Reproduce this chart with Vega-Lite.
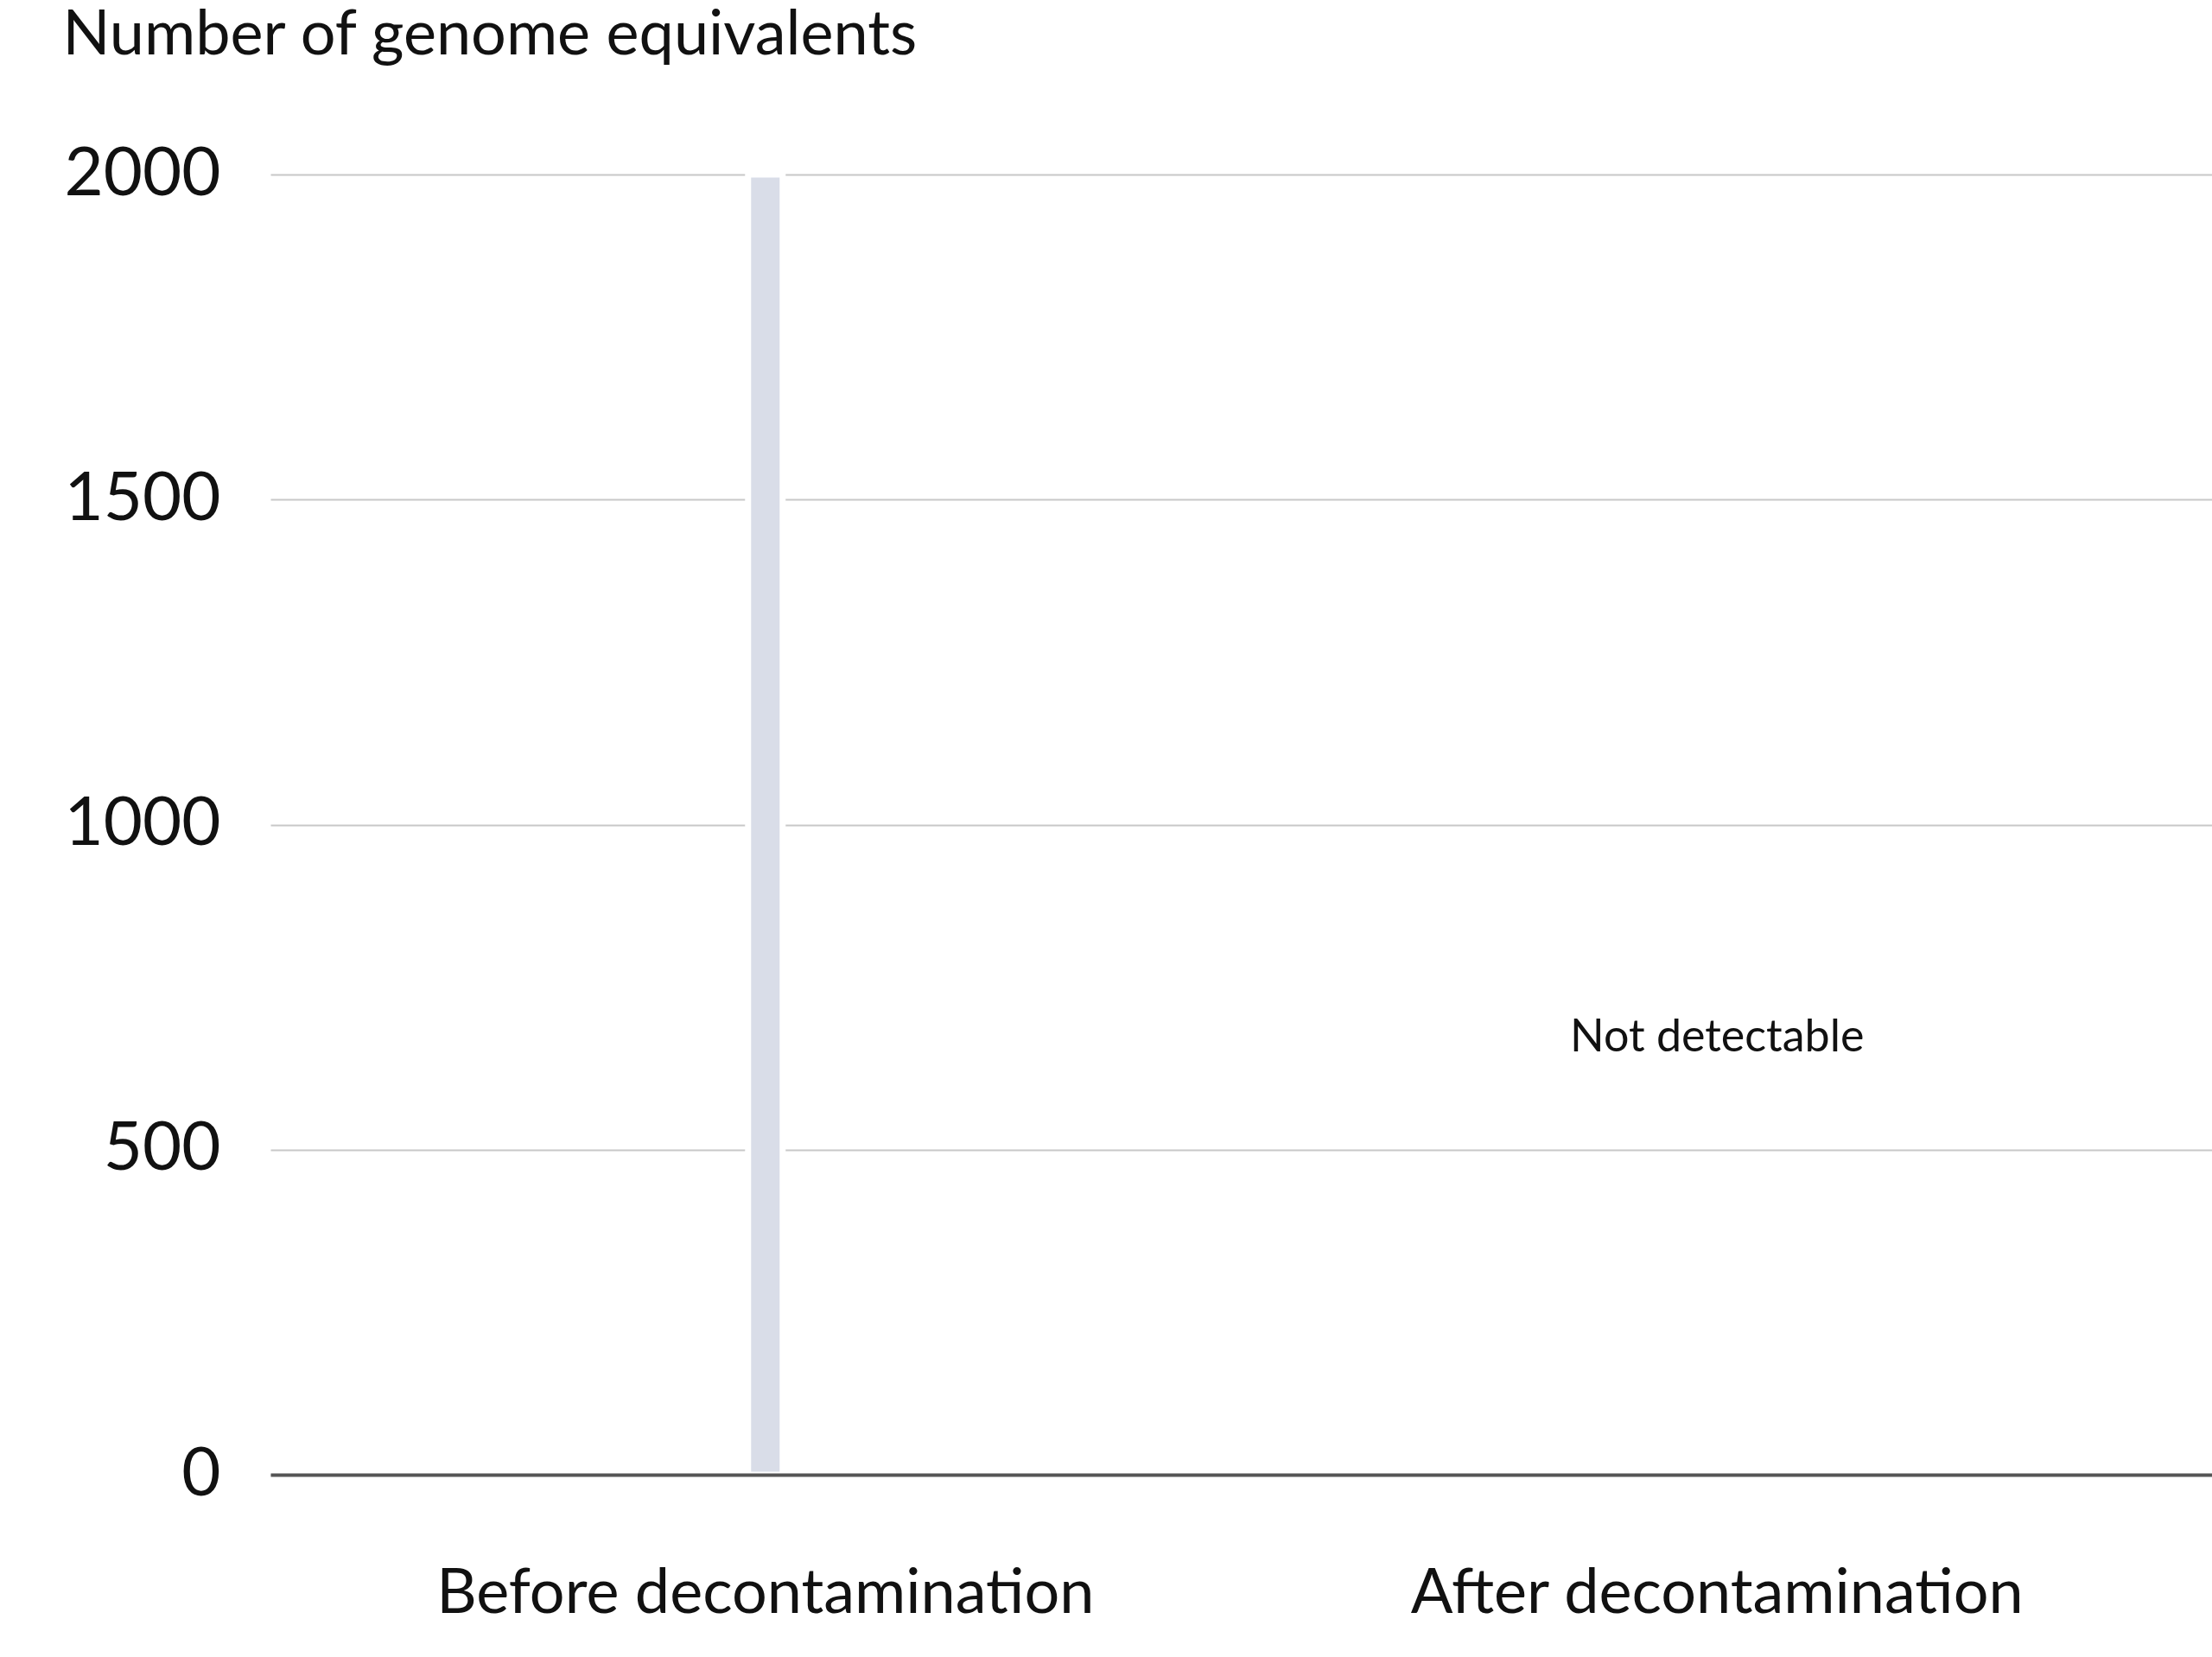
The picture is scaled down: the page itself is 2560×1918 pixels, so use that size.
{
  "$schema": "https://vega.github.io/schema/vega-lite/v6.json",
  "autosize": "none",
  "width": 2247,
  "height": 1505,
  "padding": {"left": 313, "top": 202, "right": 0, "bottom": 211},
  "background": "white",
  "config": {
    "view": {"stroke": null},
    "font": "Lato"
  },
  "data": {
    "values": [
      {"stage": "Before decontamination", "genomes": 2000, "note": ""},
      {"stage": "After decontamination", "genomes": 0, "note": "Not detectable"}
    ]
  },
  "encoding": {
    "x": {
      "field": "stage",
      "type": "nominal",
      "sort": null,
      "scale": {"paddingInner": 0, "paddingOuter": 0.02},
      "axis": {
        "title": null,
        "labelAngle": 0,
        "labelFontSize": 72,
        "labelLimit": 0,
        "labelColor": "#111111",
        "labelPadding": 102,
        "ticks": false,
        "domainColor": "#555555",
        "domainWidth": 4,
        "zindex": 2
      }
    }
  },
  "layer": [
    {
      "mark": {"type": "bar", "width": 40, "color": "#d9dde8", "stroke": "white", "strokeWidth": 7},
      "encoding": {
        "y": {
          "field": "genomes",
          "type": "quantitative",
          "scale": {"domain": [0, 2000], "nice": false},
          "axis": {
            "values": [0, 500, 1000, 1500, 2000],
            "format": "d",
            "labelFontSize": 78,
            "labelLimit": 0,
            "labelColor": "#111111",
            "labelPadding": 58,
            "ticks": false,
            "domain": false,
            "gridColor": "#c8c8c8",
            "gridWidth": 2,
            "title": "Number of genome equivalents",
            "titleAngle": 0,
            "titleAlign": "left",
            "titleBaseline": "alphabetic",
            "titleX": -241,
            "titleY": -140,
            "titleFontSize": 72,
            "titleFontWeight": "normal",
            "titleColor": "#111111"
          }
        }
      }
    },
    {
      "mark": {"type": "text", "fontSize": 52, "color": "#111111", "baseline": "middle", "align": "center"},
      "encoding": {
        "y": {"datum": 672, "type": "quantitative"},
        "text": {"field": "note"}
      }
    }
  ]
}
